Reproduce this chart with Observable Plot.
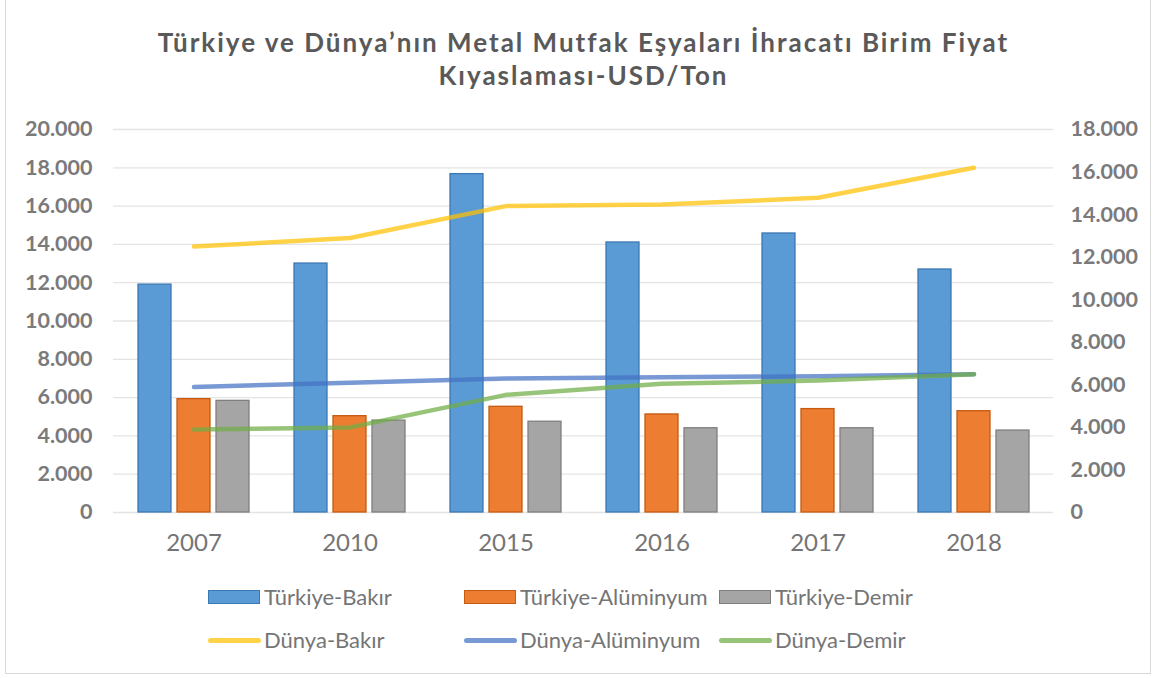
<!DOCTYPE html>
<html>
<head>
<meta charset="utf-8">
<script src="https://cdn.jsdelivr.net/npm/d3@7"></script>
<script src="https://cdn.jsdelivr.net/npm/@observablehq/plot@0.6"></script>
<style>
  html, body { margin: 0; padding: 0; background: #fff; }
  #wrap { position: relative; width: 1155px; height: 678px; overflow: hidden; font-family: Lato, "Open Sans", sans-serif; }
  #frame { position: absolute; left: 5px; top: -2px; width: 1146px; height: 676px; border: 1px solid #d9d9d9; box-sizing: border-box; }
  #title { position: absolute; left: 6px; top: 26px; width: 1155px; text-align: center; color: #595959; font-weight: 700; font-size: 26px; line-height: 33px; letter-spacing: 2px; }
  #chart { position: absolute; left: 0; top: 110px; }
  .leg { position: absolute; font-size: 22px; color: #757575; white-space: nowrap; line-height: 24px; }
  .sw { position: absolute; }
</style>
</head>
<body>
<div id="wrap">
  <div id="frame"></div>
  <div id="title">Türkiye ve Dünya’nın Metal Mutfak Eşyaları İhracatı Birim Fiyat<br>Kıyaslaması-USD/Ton</div>
  <div id="chart"></div>
  <div id="legend"></div>
</div>
<script>
// ---- data ----
const years = ["2007", "2010", "2015", "2016", "2017", "2018"];
// bars (left axis)
const trBakir = [11900, 13000, 17670, 14100, 14570, 12690];
const trAlu   = [5920, 5030, 5520, 5120, 5400, 5290];
const trDemir = [5830, 4800, 4740, 4400, 4400, 4280];
// lines (right axis)
const dBakir = [12500, 12900, 14400, 14470, 14790, 16200];
const dAlu   = [5900, 6100, 6300, 6360, 6400, 6500];
const dDemir = [3900, 4000, 5530, 6050, 6200, 6500];
const leftTicks = [0, 2000, 4000, 6000, 8000, 10000, 12000, 14000, 16000, 18000, 20000];
const rightTicks = [0, 2000, 4000, 6000, 8000, 10000, 12000, 14000, 16000, 18000];

const barSeries = [
  {name: "Türkiye-Bakır", values: trBakir, fill: "#5B9BD5", stroke: "#3C78B4"},
  {name: "Türkiye-Alüminyum", values: trAlu, fill: "#ED7D31", stroke: "#C55A11"},
  {name: "Türkiye-Demir", values: trDemir, fill: "#A5A5A5", stroke: "#7F7F7F"}
];
const lineSeries = [
  {name: "Dünya-Bakır", values: dBakir, stroke: "#FFC000"},
  {name: "Dünya-Alüminyum", values: dAlu, stroke: "#4472C4"},
  {name: "Dünya-Demir", values: dDemir, stroke: "#70AD47"}
];

const LEFT_MAX = 20000, RIGHT_MAX = 18000;
const toLeft = v => v * LEFT_MAX / RIGHT_MAX;
const fmt = v => d3.format(",")(v).replace(/,/g, ".");

const rows = s => years.map((y, i) => ({year: y, value: s.values[i], name: s.name}));

const marks = [
  Plot.gridY(leftTicks, {stroke: "#e4e4e4", strokeOpacity: 1, strokeWidth: 1.3}),
  ...barSeries.map((s, k) => Plot.barY(rows(s), {
    x: "year", y: "value", fill: s.fill, stroke: s.stroke, strokeWidth: 1.3, dx: (k - 1) * 39
  })),
  ...lineSeries.map(s => Plot.line(rows(s), {
    x: "year", y: d => toLeft(d.value), stroke: s.stroke, strokeWidth: 4.5,
    strokeOpacity: 0.72, strokeLinecap: "round", strokeLinejoin: "round"
  })),
  Plot.axisY(leftTicks, {anchor: "left", tickSize: 0, tickPadding: 21, tickFormat: fmt,
    fontSize: 21.5, fontWeight: 700, fill: "#7a7a7a"}),
  Plot.axisY(rightTicks.map(toLeft), {anchor: "right", tickSize: 0, tickPadding: 17,
    tickFormat: d => fmt(Math.round(d * RIGHT_MAX / LEFT_MAX)), fontSize: 21.5, fontWeight: 700, fill: "#7a7a7a"}),
  Plot.axisX({tickSize: 0, tickPadding: 21, fontSize: 24, fill: "#757575"})
];

const chart = Plot.plot({
  width: 1155,
  height: 455,
  marginTop: 19,
  marginBottom: 53,
  marginLeft: 113,
  marginRight: 102,
  style: {fontFamily: "Lato, 'Open Sans', sans-serif", background: "transparent", overflow: "visible"},
  x: {domain: years, paddingInner: 0.789, paddingOuter: 0.3945, label: null},
  y: {domain: [0, LEFT_MAX], label: null},
  marks
});
document.getElementById("chart").appendChild(chart);

// ---- legend ----
const legend = document.getElementById("legend");
const cols = [208, 464, 719];
barSeries.forEach((s, i) => {
  const sw = document.createElement("div");
  sw.className = "sw";
  Object.assign(sw.style, {left: cols[i] + "px", top: "590px", width: "52px", height: "14px",
    background: s.fill, border: "1.3px solid " + s.stroke, boxSizing: "border-box"});
  legend.appendChild(sw);
  const t = document.createElement("div");
  t.className = "leg";
  t.textContent = s.name;
  Object.assign(t.style, {left: (cols[i] + 56) + "px", top: "585px"});
  legend.appendChild(t);
});
lineSeries.forEach((s, i) => {
  const sw = document.createElement("div");
  sw.className = "sw";
  Object.assign(sw.style, {left: cols[i] + "px", top: "638px", width: "53px", height: "5px",
    background: s.stroke, opacity: 0.72, borderRadius: "3px"});
  legend.appendChild(sw);
  const t = document.createElement("div");
  t.className = "leg";
  t.textContent = s.name;
  Object.assign(t.style, {left: (cols[i] + 56) + "px", top: "628px"});
  legend.appendChild(t);
});
</script>
</body>
</html>
